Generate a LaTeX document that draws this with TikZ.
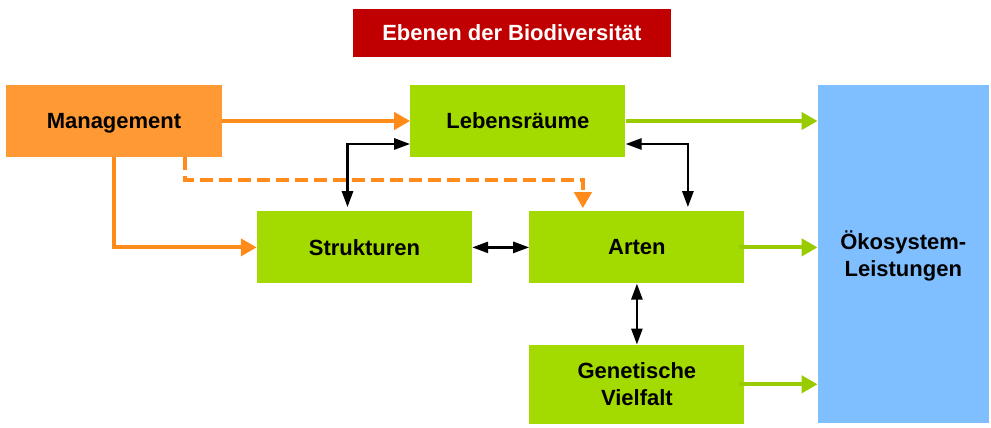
\documentclass[tikz,border=0pt]{standalone}
\usepackage{fontspec}
\setmainfont{Liberation Sans}
\usepackage{xcolor}
\usetikzlibrary{positioning}
\usetikzlibrary{arrows.meta}
\definecolor{titelrot}{HTML}{C00000}
\definecolor{mgmtorange}{HTML}{FF9933}
\definecolor{pfeilorange}{HTML}{FF8C1A}
\definecolor{ebenegruen}{HTML}{A3DB00}
\definecolor{pfeilgruen}{HTML}{99CC00}
\definecolor{oekoblau}{HTML}{80BFFF}
\tikzset{
  ebene/.style={rectangle, fill=ebenegruen, minimum width=215pt, minimum height=72pt,
    inner sep=0pt, text depth=0pt, align=center, font=\bfseries\fontsize{22}{27}\selectfont},
  orangepfeil/.style={draw=pfeilorange, line width=4pt, -{Triangle[length=16pt,width=17pt]}, pfeilorange},
  gruenpfeil/.style={draw=pfeilgruen, line width=4pt, -{Triangle[length=16pt,width=17pt]}, pfeilgruen},
  wechsel/.style={draw=black, line width=2.6pt, {Triangle[length=16pt,width=11pt]}-{Triangle[length=16pt,width=11pt]}}
}

\begin{document}
\begin{tikzpicture}
\useasboundingbox (-114pt,121pt) rectangle (877pt,-307pt);
\node[ebene, fill=mgmtorange, minimum width=216pt] (mgmt) {Management};
\node[ebene, right=188pt of mgmt] (leben) {Lebensräume};
\node[ebene, below=54pt of leben, xshift=119pt] (arten) {Arten};
\node[ebene, left=57pt of arten] (struk) {Strukturen};
\node[ebene, below=61pt of arten, minimum height=79pt] (gen) {Genetische\\Vielfalt};
\node[ebene, fill=oekoblau, minimum width=171pt, minimum height=338pt,
  right=192pt of leben.north east, anchor=north west] (oeko) {Ökosystem-\\Leistungen};
\node[ebene, fill=titelrot, text=white, minimum width=318pt, minimum height=48pt,
  above=28pt of leben, xshift=-6pt] (titel) {Ebenen der Biodiversität};

\draw[orangepfeil] (mgmt.east) -- (leben.west);
\draw[orangepfeil] (mgmt.south) |- (struk.west);
\draw[orangepfeil, dash pattern=on 13pt off 6pt] ([xshift=-37pt]mgmt.south east) -- ++(0,-23pt)
  -| ([xshift=-54pt,yshift=3pt]arten.north);

\draw[wechsel] ([yshift=-23pt]leben.west) -| ([xshift=-17pt,yshift=4pt]struk.north);
\draw[wechsel] ([yshift=-23pt]leben.east) -| ([xshift=51pt,yshift=4pt]arten.north);
\draw[wechsel] (struk.east) -- (arten.west);
\draw[wechsel] (arten.south) -- (gen.north);

\draw[gruenpfeil] (leben.east) -- (oeko.west |- leben.east);
\draw[gruenpfeil] ([xshift=-6pt]arten.east) -- (oeko.west |- arten.east);
\draw[gruenpfeil] ([xshift=-6pt]gen.east) -- (oeko.west |- gen.east);
\end{tikzpicture}
\end{document}
